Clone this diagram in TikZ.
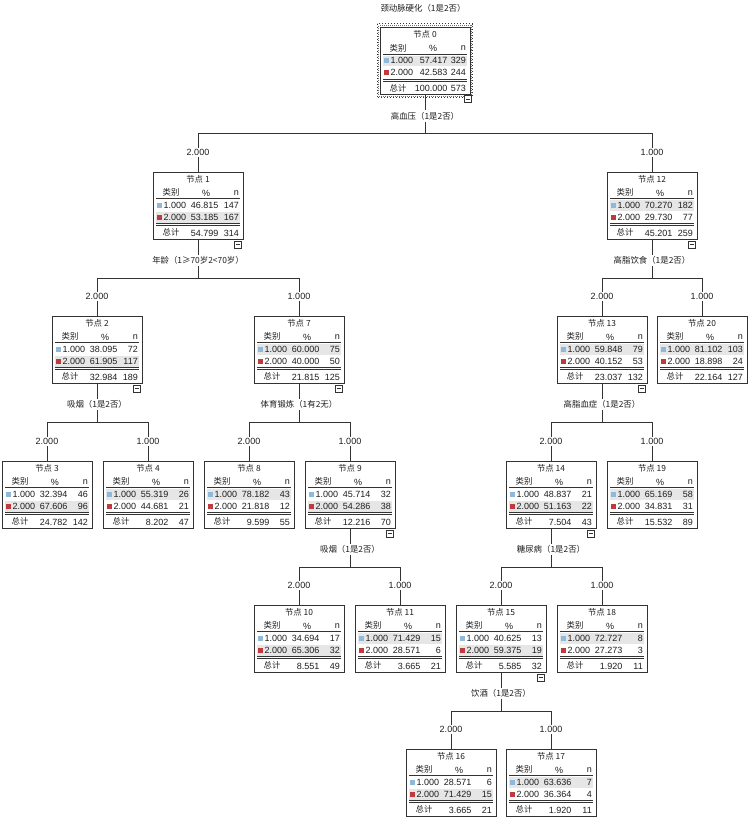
\documentclass[tikz,border=0pt]{standalone}
\usepackage{fontspec}
\setmainfont{Liberation Sans}
\newfontfamily\cjk{Noto Sans CJK SC}
\usetikzlibrary{calc}
\definecolor{boxc}{HTML}{333333}
\definecolor{txtc}{HTML}{1E1E1E}
\definecolor{hlc}{HTML}{E6E6E6}
\definecolor{bluec}{HTML}{8FB9DA}
\definecolor{redc}{HTML}{C0393C}
\tikzset{
  box/.style={draw=boxc, line width=0.8pt, minimum width=90pt, minimum height=67pt, inner sep=0pt},
  num/.style={font=\fontsize{9}{10}\selectfont, text=txtc, inner sep=1.5pt},
  cj/.style={font=\cjk\fontsize{8.4}{9}\selectfont, text=txtc, inner sep=1.5pt},
  conn/.style={draw=boxc, line width=0.8pt},
  rule/.style={draw=boxc, line width=0.9pt},
  icon/.style={draw=boxc, line width=0.7pt, fill=white},
}
% #1 name, #2 left, #3 top, #4 number, #5 p1, #6 n1, #7 p2, #8 n2, #9 highlighted row
\newcommand\tnode[9]{\def\Nname{#1}\def\NL{#2}\def\NT{#3}\def\Nnum{#4}\def\Npa{#5}\def\Nna{#6}\def\Npb{#7}\def\Nnb{#8}\def\Nhl{#9}\tnodeB}
% #1 total pct, #2 total n, #3 pct right edge, #4 icon (1/0)
\newcommand\tnodeB[4]{%
  \begin{scope}[shift={(\NL,\NT)}]
    \ifnum\Nhl=1 \fill[hlc] (3,28) rectangle (87,38.5); \else \fill[hlc] (3,40) rectangle (87,50.5); \fi
    \node[box] (\Nname) at (45,33.5) {};
    \node[cj] (\Nname-t) at (45,7) {节点 \Nnum};
    \node[cj] (\Nname-h1) at (18,20.5) {类别};
    \node[num] (\Nname-h2) at (53,21) {\%};
    \node[num, anchor=east] (\Nname-h3) at (87.5,21) {n};
    \draw[rule] (3,26.5) -- (87,26.5);
    \fill[bluec] (3.5,30.5) rectangle (8.5,35.5);
    \fill[redc] (3.5,42.5) rectangle (8.5,47.5);
    \node[num, anchor=west] (\Nname-c1) at (9,33.3) {1.000};
    \node[num, anchor=west] (\Nname-c2) at (9,45.3) {2.000};
    \node[num, anchor=east] (\Nname-p1) at (#3,33.3) {\Npa};
    \node[num, anchor=east] (\Nname-p2) at (#3,45.3) {\Npb};
    \node[num, anchor=east] (\Nname-n1) at (87.5,33.3) {\Nna};
    \node[num, anchor=east] (\Nname-n2) at (87.5,45.3) {\Nnb};
    \draw[boxc, line width=0.6pt] (3,51.5) -- (87,51.5) (3,53.5) -- (87,53.5);
    \node[cj] (\Nname-tl) at (18,60.5) {总计};
    \node[num, anchor=east] (\Nname-tp) at (#3,61) {#1};
    \node[num, anchor=east] (\Nname-tn) at (87.5,61) {#2};
    \ifnum#4=1
      \draw[icon] (81,69) rectangle (88,76);
      \draw[boxc, line width=0.7pt] (82.5,72.5) -- (86.5,72.5);
    \fi
  \end{scope}}
% #1 parent, #2 left child, #3 right child, #4 label
\newcommand\tsplit[4]{%
  \node[cj] (#1-s) at ($(#1.south)+(0,21)$) {#4};
  \coordinate (#1-h) at ($(#1.south)+(0,38.5)$);
  \node[num] (#2-e) at ($(#2.north)+(0,-19)$) {2.000};
  \node[num] (#3-e) at ($(#3.north)+(0,-19)$) {1.000};
  \draw[conn] (#1.south) -- (#1-s.north);
  \draw[conn] (#1-s.south) -- (#1-h);
  \draw[conn] (#2-e.north |- #1-h) -- (#3-e.north |- #1-h);
  \draw[conn] (#2-e.north |- #1-h) -- (#2-e.north);
  \draw[conn] (#3-e.north |- #1-h) -- (#3-e.north);
  \draw[conn] (#2-e.south) -- (#2.north);
  \draw[conn] (#3-e.south) -- (#3.north);
}
\begin{document}
\begin{tikzpicture}[x=1pt,y=-1pt]
\useasboundingbox (0,0) rectangle (748,819);
\fill[white] (0,0) rectangle (748,819);
\node[cj] (title) at (423,8) {颈动脉硬化（1是2否）};
% root with selection outline
\draw[boxc, line width=1pt, dotted] (377,23.5) rectangle (472.5,97.5);
\draw[boxc!70, line width=1pt, dash pattern=on 1pt off 1pt, dash phase=1pt] (378.5,25) rectangle (471,96);
\tnode{n0}{380}{27.5}{0}{57.417}{329}{42.583}{244}{1}{100.000}{573}{69}{0}
\draw[icon] (464.5,95.5) rectangle (471.5,102.5);
\draw[boxc, line width=0.7pt] (466,99) -- (470,99);
\tnode{n1}{153}{172}{1}{46.815}{147}{53.185}{167}{2}{54.799}{314}{67}{1}
\tnode{n12}{607}{172}{12}{70.270}{182}{29.730}{77}{1}{45.201}{259}{67}{1}
\tnode{n2}{52}{316}{2}{38.095}{72}{61.905}{117}{2}{32.984}{189}{67}{1}
\tnode{n7}{254}{316}{7}{60.000}{75}{40.000}{50}{1}{21.815}{125}{67}{1}
\tnode{n13}{557}{316}{13}{59.848}{79}{40.152}{53}{1}{23.037}{132}{67}{1}
\tnode{n20}{657}{316}{20}{81.102}{103}{18.898}{24}{1}{22.164}{127}{67}{0}
\tnode{n3}{2}{461}{3}{32.394}{46}{67.606}{96}{2}{24.782}{142}{67}{0}
\tnode{n4}{103}{461}{4}{55.319}{26}{44.681}{21}{1}{8.202}{47}{67}{0}
\tnode{n8}{204}{461}{8}{78.182}{43}{21.818}{12}{1}{9.599}{55}{67}{0}
\tnode{n9}{305}{461}{9}{45.714}{32}{54.286}{38}{2}{12.216}{70}{67}{1}
\tnode{n14}{506}{461}{14}{48.837}{21}{51.163}{22}{2}{7.504}{43}{67}{1}
\tnode{n19}{607}{461}{19}{65.169}{58}{34.831}{31}{1}{15.532}{89}{67}{0}
\tnode{n10}{254}{605}{10}{34.694}{17}{65.306}{32}{2}{8.551}{49}{67}{0}
\tnode{n11}{355}{605}{11}{71.429}{15}{28.571}{6}{1}{3.665}{21}{67}{0}
\tnode{n15}{456}{605}{15}{40.625}{13}{59.375}{19}{2}{5.585}{32}{67}{1}
\tnode{n18}{557}{605}{18}{72.727}{8}{27.273}{3}{1}{1.920}{11}{67}{0}
\tnode{n16}{406}{749}{16}{28.571}{6}{71.429}{15}{2}{3.665}{21}{67}{0}
\tnode{n17}{506}{749}{17}{63.636}{7}{36.364}{4}{1}{1.920}{11}{67}{0}
\tsplit{n0}{n1}{n12}{高血压（1是2否）}
\tsplit{n1}{n2}{n7}{年龄（1≥70岁2<70岁）}
\tsplit{n12}{n13}{n20}{高脂饮食（1是2否）}
\tsplit{n2}{n3}{n4}{吸烟（1是2否）}
\tsplit{n7}{n8}{n9}{体育锻炼（1有2无）}
\tsplit{n13}{n14}{n19}{高脂血症（1是2否）}
\tsplit{n9}{n10}{n11}{吸烟（1是2否）}
\tsplit{n14}{n15}{n18}{糖尿病（1是2否）}
\tsplit{n15}{n16}{n17}{饮酒（1是2否）}
\end{tikzpicture}
\end{document}
